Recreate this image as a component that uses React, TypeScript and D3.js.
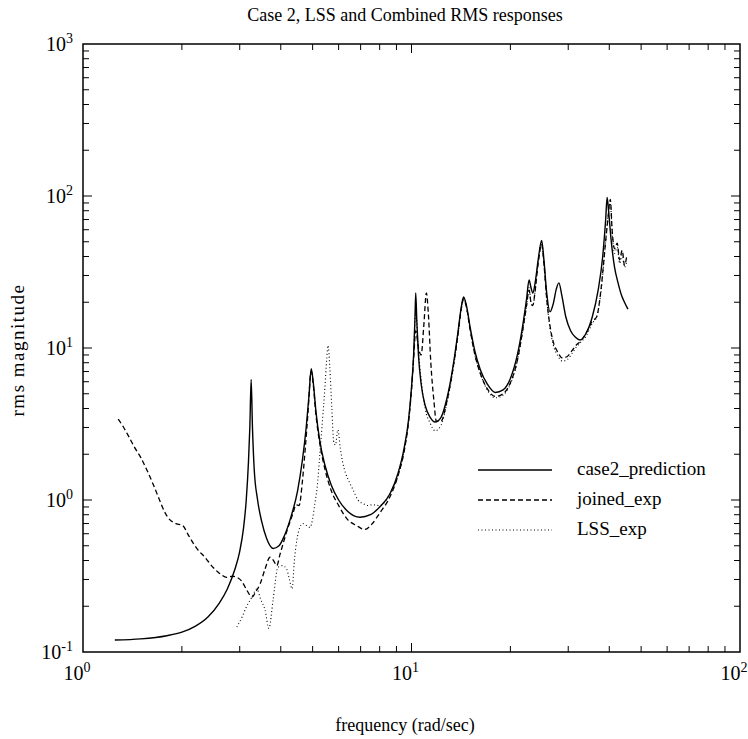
import React, { useEffect, useRef } from 'react';
import * as d3 from 'd3';

// case2_prediction (solid) : [frequency rad/s, rms magnitude]
const prediction: [number, number][] = [
  [1.25, 0.12], [1.5, 0.122], [1.8, 0.128], [2.0, 0.135], [2.2, 0.148], [2.4, 0.17],
  [2.6, 0.21], [2.75, 0.26], [2.9, 0.35], [3.0, 0.46], [3.08, 0.65], [3.14, 1.0],
  [3.19, 1.8], [3.22, 3.0], [3.25, 6.2], [3.28, 3.0], [3.32, 1.6], [3.4, 1.0],
  [3.5, 0.72], [3.62, 0.56], [3.79, 0.48], [3.95, 0.5], [4.1, 0.58], [4.3, 0.78],
  [4.5, 1.15], [4.65, 1.8], [4.78, 3.0], [4.88, 5.0], [4.95, 7.3], [5.02, 6.0],
  [5.12, 3.8], [5.25, 2.5], [5.45, 1.7], [5.7, 1.25], [6.0, 1.0], [6.4, 0.84],
  [6.97, 0.77], [7.5, 0.8], [8.0, 0.9], [8.6, 1.1], [9.1, 1.5], [9.5, 2.2],
  [9.8, 3.4], [10.0, 5.5], [10.15, 9], [10.25, 16], [10.3, 23], [10.38, 15],
  [10.5, 9], [10.7, 5.8], [11.0, 4.2], [11.4, 3.5], [11.8, 3.26], [12.3, 3.5],
  [12.8, 4.6], [13.3, 7], [13.8, 12], [14.2, 19], [14.4, 21.7], [14.7, 19],
  [15.1, 13.5], [15.6, 9.5], [16.2, 7.2], [17.0, 5.8], [18.0, 5.1], [19.0, 5.3],
  [20.0, 6.3], [21.0, 9], [21.8, 14], [22.4, 21], [22.8, 28], [23.1, 25],
  [23.4, 23], [23.8, 27], [24.3, 38], [24.9, 51], [25.3, 38], [25.8, 23],
  [26.4, 17.3], [27.0, 19.5], [27.6, 24.5], [28.1, 26.8], [28.7, 22], [29.5, 16],
  [30.5, 13], [31.5, 11.8], [32.6, 11.3], [34.0, 12.5], [35.5, 16], [37.0, 24],
  [38.2, 40], [39.0, 70], [39.4, 98], [39.8, 80], [40.5, 52], [41.5, 34],
  [42.5, 27], [43.5, 22.5], [44.5, 20], [45.6, 18],
];

// joined_exp (dashed)
const joinedExp: [number, number][] = [
  [1.28, 3.4], [1.33, 3.0], [1.38, 2.6], [1.43, 2.25], [1.5, 1.9], [1.57, 1.55],
  [1.64, 1.25], [1.71, 1.0], [1.78, 0.82], [1.84, 0.74], [1.92, 0.7], [2.01, 0.68],
  [2.1, 0.58], [2.22, 0.48], [2.35, 0.42], [2.49, 0.36], [2.6, 0.33], [2.74, 0.31],
  [2.85, 0.315], [2.94, 0.31], [3.05, 0.29], [3.15, 0.256], [3.27, 0.23], [3.36, 0.25],
  [3.46, 0.28], [3.58, 0.35], [3.71, 0.42], [3.8, 0.4], [3.89, 0.37], [3.98, 0.44],
  [4.07, 0.52], [4.2, 0.65], [4.36, 0.82], [4.45, 0.93], [4.55, 0.92], [4.65, 1.3],
  [4.75, 2.2], [4.85, 4.0], [4.92, 6.5], [4.96, 7.0], [5.02, 5.8], [5.12, 3.6],
  [5.25, 2.4], [5.45, 1.6], [5.7, 1.15], [6.0, 0.92], [6.4, 0.74], [6.8, 0.68],
  [7.2, 0.64], [7.6, 0.7], [8.0, 0.82], [8.6, 1.05], [9.1, 1.45], [9.5, 2.1],
  [9.8, 3.3], [10.0, 5.3], [10.15, 8.5], [10.3, 13], [10.5, 10], [10.7, 9],
  [10.9, 14], [11.1, 23], [11.25, 17], [11.45, 8], [11.7, 4.5], [11.9, 3.3],
  [12.3, 3.3], [12.8, 4.4], [13.3, 6.8], [13.8, 11.5], [14.2, 18.5], [14.4, 21],
  [14.7, 18.5], [15.1, 13], [15.6, 9], [16.2, 6.8], [17.0, 5.4], [18.0, 4.8],
  [19.0, 5.0], [20.0, 5.9], [21.0, 8.3], [21.8, 13], [22.4, 19], [22.8, 24],
  [23.1, 20], [23.4, 19], [23.8, 24], [24.3, 36], [24.9, 48], [25.3, 36],
  [25.8, 21], [26.4, 14], [27.0, 11], [27.8, 9.5], [28.8, 8.6], [29.8, 8.8],
  [30.8, 9.6], [31.8, 10.5], [32.6, 11], [34.0, 12.5], [35.5, 15], [36.6, 16],
  [37.8, 25], [38.8, 45], [39.6, 70], [40.3, 95], [40.8, 60], [41.5, 45],
  [42.3, 49], [43.0, 38], [43.8, 44], [44.5, 35], [45.2, 40],
];

// LSS_exp (dotted)
const lssExp: [number, number][] = [
  [2.94, 0.146], [3.05, 0.17], [3.15, 0.2], [3.27, 0.23], [3.38, 0.26], [3.48, 0.22],
  [3.58, 0.19], [3.68, 0.143], [3.79, 0.22], [3.92, 0.36], [4.05, 0.37], [4.17, 0.35],
  [4.25, 0.3], [4.33, 0.26], [4.4, 0.4], [4.48, 0.55], [4.57, 0.66], [4.67, 0.7],
  [4.79, 0.68], [4.91, 0.66], [5.0, 0.75], [5.08, 0.95], [5.16, 1.2], [5.26, 2.0],
  [5.35, 3.2], [5.45, 5.5], [5.52, 8.5], [5.57, 10.4], [5.64, 7.5], [5.72, 4.0],
  [5.8, 2.4], [5.87, 2.3], [5.97, 2.9], [6.07, 2.2], [6.18, 1.75], [6.3, 1.5],
  [6.48, 1.3], [6.66, 1.15], [6.87, 1.0], [7.1, 0.95], [7.35, 0.92], [7.6, 0.93],
  [8.0, 0.92], [8.6, 1.1], [9.1, 1.45], [9.5, 2.1], [9.8, 3.3], [10.0, 5.3],
  [10.15, 9], [10.3, 18], [10.45, 11], [10.7, 6.2], [11.0, 4.0], [11.4, 3.2],
  [11.8, 2.85], [12.3, 3.1], [12.8, 4.3], [13.3, 6.6], [13.8, 11.5], [14.2, 18.5],
  [14.4, 21.5], [14.7, 18.5], [15.1, 13], [15.6, 9], [16.2, 6.8], [17.0, 5.3],
  [18.0, 4.7], [19.0, 4.9], [20.0, 5.8], [21.0, 8.2], [21.8, 13], [22.4, 19],
  [22.8, 25], [23.1, 20], [23.4, 19], [23.8, 24], [24.3, 37], [24.9, 49],
  [25.3, 36], [25.8, 21], [26.4, 13.5], [27.0, 10.5], [27.8, 9], [28.8, 8.2],
  [29.8, 8.4], [30.8, 9.2], [31.8, 10.2], [32.6, 10.8], [34.0, 12], [35.5, 14.5],
  [36.6, 16], [37.8, 24], [38.8, 44], [39.6, 72], [40.3, 90], [40.8, 58],
  [41.5, 42], [42.3, 46], [43.0, 36], [43.8, 41], [44.5, 34], [45.2, 37],
];

const seriesNames = ['case2_prediction', 'joined_exp', 'LSS_exp'];
const xDecades = [0, 1, 2];
const yDecades = [-1, 0, 1, 2, 3];

const App = () => {
  const svgRef = useRef<SVGSVGElement>(null);

  useEffect(() => {
    const width = 748;
    const height = 739;
    const margin = { top: 44, right: 8, bottom: 87, left: 83 };
    const font = '"Liberation Serif", "Times New Roman", serif';

    const svg = d3.select(svgRef.current)
      .attr('width', width)
      .attr('height', height)
      .style('font-family', font);
    svg.selectAll('*').remove();

    const x = d3.scaleLog().domain([1, 100]).range([margin.left, width - margin.right]);
    const y = d3.scaleLog().domain([0.1, 1000]).range([height - margin.bottom, margin.top]);
    const [x0, x1] = x.range();
    const [y0, y1] = y.range();

    // ticks (inward, all four sides)
    const minorX: number[] = [];
    [1, 10].forEach(d => { for (let k = 2; k <= 9; k++) minorX.push(d * k); });
    const minorY: number[] = [];
    [0.1, 1, 10, 100].forEach(d => { for (let k = 2; k <= 9; k++) minorY.push(d * k); });

    const tickG = svg.append('g').attr('stroke', '#000').attr('stroke-width', 1);
    minorX.concat([10]).forEach(v => {
      const len = v === 10 ? 9 : 6;
      tickG.append('line').attr('x1', x(v)).attr('x2', x(v)).attr('y1', y0).attr('y2', y0 - len);
      tickG.append('line').attr('x1', x(v)).attr('x2', x(v)).attr('y1', y1).attr('y2', y1 + len);
    });
    minorY.concat([1, 10, 100]).forEach(v => {
      const len = [1, 10, 100].includes(v) ? 9 : 6;
      tickG.append('line').attr('x1', x0).attr('x2', x0 + len).attr('y1', y(v)).attr('y2', y(v));
      tickG.append('line').attr('x1', x1).attr('x2', x1 - len).attr('y1', y(v)).attr('y2', y(v));
    });

    // frame
    svg.append('rect')
      .attr('x', x0).attr('y', y1)
      .attr('width', x1 - x0).attr('height', y0 - y1)
      .attr('fill', 'none').attr('stroke', '#000').attr('stroke-width', 1.5);

    // tick labels
    const xl = svg.append('g').attr('font-size', 20).attr('text-anchor', 'middle');
    xDecades.forEach(p => {
      const t = xl.append('text').attr('x', x(Math.pow(10, p)) - 6).attr('y', y0 + 28);
      t.append('tspan').text('10');
      t.append('tspan').attr('dy', -8).attr('font-size', 14).text(String(p));
    });
    const yl = svg.append('g').attr('font-size', 20).attr('text-anchor', 'end');
    yDecades.forEach(p => {
      const t = yl.append('text').attr('x', x0 - 10).attr('y', y(Math.pow(10, p)) + 7);
      t.append('tspan').text('10');
      t.append('tspan').attr('dy', -8).attr('font-size', 14).text(String(p));
    });

    // titles
    svg.append('text').attr('x', 405).attr('y', 21).attr('text-anchor', 'middle')
      .attr('font-size', 18).text('Case 2, LSS and Combined RMS responses');
    svg.append('text').attr('x', 405).attr('y', 731).attr('text-anchor', 'middle')
      .attr('font-size', 18).text('frequency (rad/sec)');
    svg.append('text').attr('transform', `translate(24,350) rotate(-90)`)
      .attr('text-anchor', 'middle').attr('font-size', 19)
      .attr('letter-spacing', 1.5).text('rms magnitude');

    // lines
    const line = d3.line<[number, number]>()
      .x(d => x(d[0]))
      .y(d => y(d[1]))
      .curve(d3.curveMonotoneX);

    const styles = [
      { data: prediction, dash: null, w: 1.4 },
      { data: joinedExp, dash: '5,3', w: 1.3 },
      { data: lssExp, dash: '1,2.5', w: 1.1 },
    ];

    styles.forEach(s => {
      svg.append('path')
        .attr('d', line(s.data))
        .attr('fill', 'none')
        .attr('stroke', '#000')
        .attr('stroke-width', s.w)
        .attr('stroke-dasharray', s.dash);
    });

    // legend
    const legend = svg.append('g').attr('transform', 'translate(478,470)');
    seriesNames.forEach((name, i) => {
      const g = legend.append('g').attr('transform', `translate(0,${i * 30})`);
      g.append('line').attr('x1', 0).attr('x2', 74).attr('y1', 0).attr('y2', 0)
        .attr('stroke', '#000').attr('stroke-width', styles[i].w)
        .attr('stroke-dasharray', styles[i].dash);
      g.append('text').attr('x', 99).attr('y', 5).attr('font-size', 19).text(name);
    });
  }, []);

  return <svg ref={svgRef} style={{ position: 'absolute', left: 0, top: 0 }}></svg>;
};

export default App;
